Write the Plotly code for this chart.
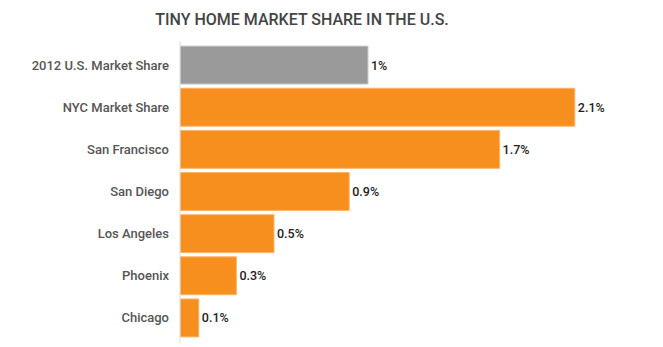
import plotly.graph_objects as go

categories = ["2012 U.S. Market Share", "NYC Market Share", "San Francisco", "San Diego",
              "Los Angeles", "Phoenix", "Chicago"]
values = [1.0, 2.1, 1.7, 0.9, 0.5, 0.3, 0.1]
labels = ["1%", "2.1%", "1.7%", "0.9%", "0.5%", "0.3%", "0.1%"]
colors = ["#9a9a9a"] + ["#f78f1e"] * 6
borders = ["#c8c8c8"] + ["#fbb36a"] * 6

fig = go.Figure(go.Bar(
    x=values, y=categories, orientation="h",
    marker=dict(color=colors, line=dict(color=borders, width=1)),
    text=labels, textposition="outside", cliponaxis=False,
    textfont=dict(family="Roboto", size=12.5, color="#222222", weight=500),
))
fig.update_layout(
    width=663, height=347,
    margin=dict(l=180, r=13, t=44, b=8),
    paper_bgcolor="white", plot_bgcolor="white",
    bargap=0.1,
    showlegend=False,
    title=dict(text="TINY HOME MARKET SHARE IN THE U.S.", x=302 / 663, xanchor="center",
               xref="container",
               y=1 - 19 / 347, yanchor="middle",
               font=dict(family="Roboto", size=16, color="#444444", weight=500)),
    xaxis=dict(range=[0, 2.5], visible=False, fixedrange=True),
    yaxis=dict(autorange="reversed", showgrid=False, zeroline=False,
               showline=False, ticks="", ticklabelstandoff=10,
               tickfont=dict(family="Roboto", size=13, color="#555555", weight=500)),
)
fig.add_shape(type="line", xref="paper", yref="paper", x0=0, x1=0, y0=-0.015, y1=1.01,
              line=dict(color="#dddddd", width=1))
fig.write_html("out.html")
